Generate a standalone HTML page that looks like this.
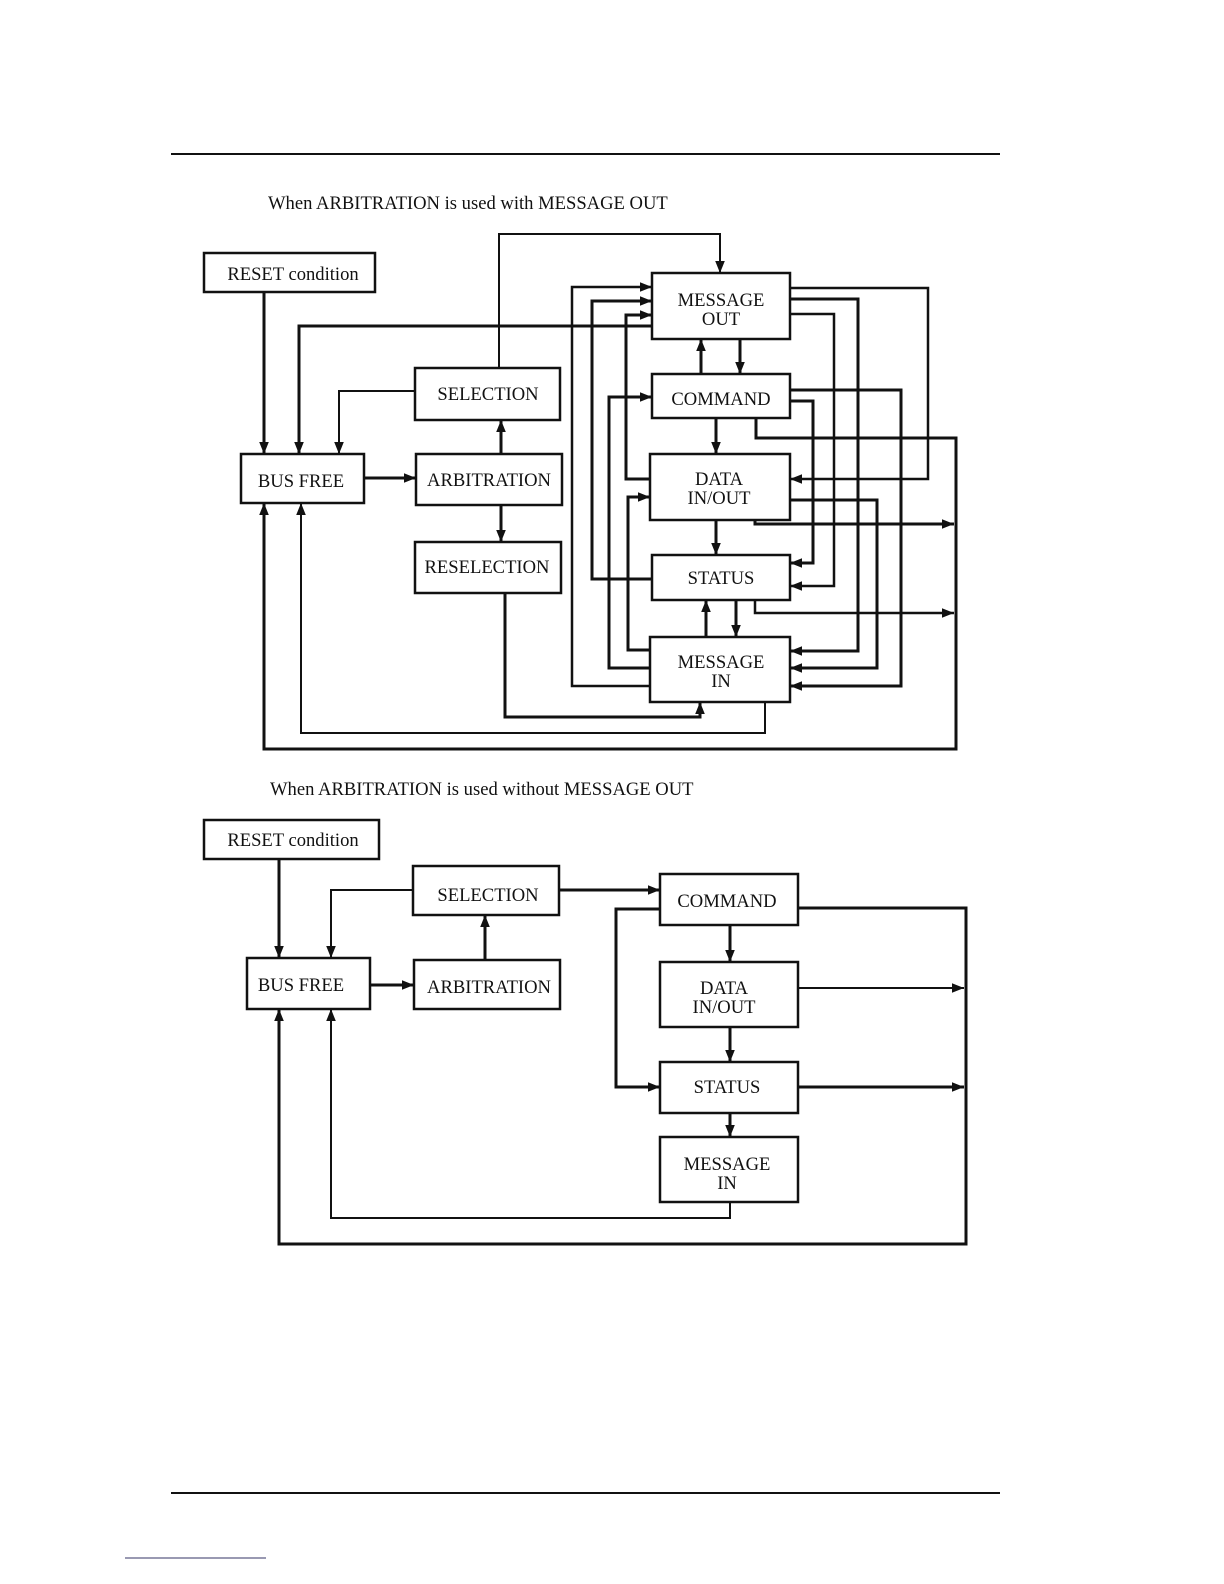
<!DOCTYPE html>
<html><head><meta charset="utf-8"><style>
html,body{margin:0;padding:0;background:#fff;}
svg{display:block;}
text{font-family:"Liberation Serif",serif;font-size:18.6px;fill:#111;}
</style></head><body>
<svg width="1224" height="1584" viewBox="0 0 1224 1584" xmlns="http://www.w3.org/2000/svg">
<defs>
<marker id="a" viewBox="0 0 10 10" refX="10" refY="5" markerWidth="12" markerHeight="12" markerUnits="userSpaceOnUse" orient="auto"><path d="M0,1 L10,5 L0,9 z" fill="#111"/></marker>
</defs>
<g stroke="#111" fill="none">
<line x1="171" y1="154" x2="1000" y2="154" stroke-width="2"/>
<line x1="171" y1="1493" x2="1000" y2="1493" stroke-width="2"/>
<line x1="125" y1="1558" x2="266" y2="1558" stroke="#336" stroke-width="1"/>
</g>
<text x="268" y="209">When ARBITRATION is used with MESSAGE OUT</text>
<text x="270" y="795">When ARBITRATION is used without MESSAGE OUT</text>

<g stroke="#111" stroke-width="2.5" fill="#fff">
<rect x="204" y="253" width="171" height="39"/>
<rect x="241" y="454" width="123" height="49"/>
<rect x="415" y="368" width="145" height="52"/>
<rect x="416" y="454" width="146" height="51"/>
<rect x="415" y="542" width="146" height="51"/>
<rect x="652" y="273" width="138" height="66"/>
<rect x="652" y="374" width="138" height="44"/>
<rect x="650" y="454" width="140" height="66"/>
<rect x="652" y="555" width="138" height="45"/>
<rect x="650" y="637" width="140" height="65"/>
</g>
<g text-anchor="middle">
<text x="293" y="280">RESET condition</text>
<text x="301" y="487">BUS FREE</text>
<text x="488" y="400">SELECTION</text>
<text x="489" y="486">ARBITRATION</text>
<text x="487" y="573">RESELECTION</text>
<text x="721" y="306">MESSAGE</text>
<text x="721" y="325">OUT</text>
<text x="721" y="405">COMMAND</text>
<text x="719" y="485">DATA</text>
<text x="719" y="504">IN/OUT</text>
<text x="721" y="584">STATUS</text>
<text x="721" y="668">MESSAGE</text>
<text x="721" y="687">IN</text>
</g>
<g stroke="#111" fill="none" stroke-width="3">
<polyline points="499,368 499,234 720,234 720,273" stroke-width="2" marker-end="url(#a)"/>
<polyline points="264,292 264,454" marker-end="url(#a)"/>
<polyline points="652,326 299,326 299,454" marker-end="url(#a)"/>
<polyline points="415,391 339,391 339,454" stroke-width="2" marker-end="url(#a)"/>
<polyline points="364,478 416,478" marker-end="url(#a)"/>
<polyline points="501,454 501,420" marker-end="url(#a)"/>
<polyline points="501,505 501,542" marker-end="url(#a)"/>
<polyline points="505,593 505,717 700,717 700,702" marker-end="url(#a)"/>
<polyline points="765,702 765,733 301,733 301,503" stroke-width="2" marker-end="url(#a)"/>
<polyline points="756,418 756,438 956,438 956,749 264,749 264,503" marker-end="url(#a)"/>
<polyline points="701,374 701,339" marker-end="url(#a)"/>
<polyline points="740,339 740,374" marker-end="url(#a)"/>
<polyline points="716,418 716,454" marker-end="url(#a)"/>
<polyline points="716,520 716,555" marker-end="url(#a)"/>
<polyline points="706,637 706,600" marker-end="url(#a)"/>
<polyline points="736,600 736,637" marker-end="url(#a)"/>
<polyline points="755,520 755,524 954,524" marker-end="url(#a)"/>
<polyline points="755,600 755,613 954,613" stroke-width="2.5" marker-end="url(#a)"/>
<polyline points="650,686 572,686 572,287 652,287" stroke-width="2.5" marker-end="url(#a)"/>
<polyline points="652,579 592,579 592,301 652,301" marker-end="url(#a)"/>
<polyline points="650,479 626,479 626,315 652,315" marker-end="url(#a)"/>
<polyline points="650,668 609,668 609,397 652,397" marker-end="url(#a)"/>
<polyline points="650,650 628,650 628,497 650,497" marker-end="url(#a)"/>
<polyline points="790,288 928,288 928,479 790,479" stroke-width="2.5" marker-end="url(#a)"/>
<polyline points="790,299 858,299 858,651 790,651" marker-end="url(#a)"/>
<polyline points="790,314 834,314 834,586 790,586" stroke-width="2.5" marker-end="url(#a)"/>
<polyline points="790,390 901,390 901,686 790,686" marker-end="url(#a)"/>
<polyline points="790,401 813,401 813,563 790,563" marker-end="url(#a)"/>
<polyline points="790,500 877,500 877,668 790,668" marker-end="url(#a)"/>
</g>

<g stroke="#111" stroke-width="2.5" fill="#fff">
<rect x="204" y="820" width="175" height="39"/>
<rect x="247" y="958" width="123" height="51"/>
<rect x="413" y="866" width="146" height="49"/>
<rect x="414" y="960" width="146" height="49"/>
<rect x="660" y="874" width="138" height="51"/>
<rect x="660" y="962" width="138" height="65"/>
<rect x="660" y="1062" width="138" height="51"/>
<rect x="660" y="1137" width="138" height="65"/>
</g>
<g text-anchor="middle">
<text x="293" y="846">RESET condition</text>
<text x="301" y="991">BUS FREE</text>
<text x="488" y="901">SELECTION</text>
<text x="489" y="993">ARBITRATION</text>
<text x="727" y="907">COMMAND</text>
<text x="724" y="994">DATA</text>
<text x="724" y="1013">IN/OUT</text>
<text x="727" y="1093">STATUS</text>
<text x="727" y="1170">MESSAGE</text>
<text x="727" y="1189">IN</text>
</g>
<g stroke="#111" fill="none" stroke-width="3">
<polyline points="279,859 279,958" marker-end="url(#a)"/>
<polyline points="413,890 331,890 331,958" stroke-width="2" marker-end="url(#a)"/>
<polyline points="370,985 414,985" marker-end="url(#a)"/>
<polyline points="485,960 485,915" marker-end="url(#a)"/>
<polyline points="559,890 660,890" marker-end="url(#a)"/>
<polyline points="660,909 616,909 616,1087 660,1087" marker-end="url(#a)"/>
<polyline points="730,925 730,962" marker-end="url(#a)"/>
<polyline points="730,1027 730,1062" marker-end="url(#a)"/>
<polyline points="730,1113 730,1137" marker-end="url(#a)"/>
<polyline points="730,1202 730,1218 331,1218 331,1009" stroke-width="2" marker-end="url(#a)"/>
<polyline points="798,908 966,908 966,1244 279,1244 279,1009" marker-end="url(#a)"/>
<polyline points="798,988 964,988" stroke-width="2" marker-end="url(#a)"/>
<polyline points="798,1087 964,1087" marker-end="url(#a)"/>
</g>
</svg>
</body></html>
